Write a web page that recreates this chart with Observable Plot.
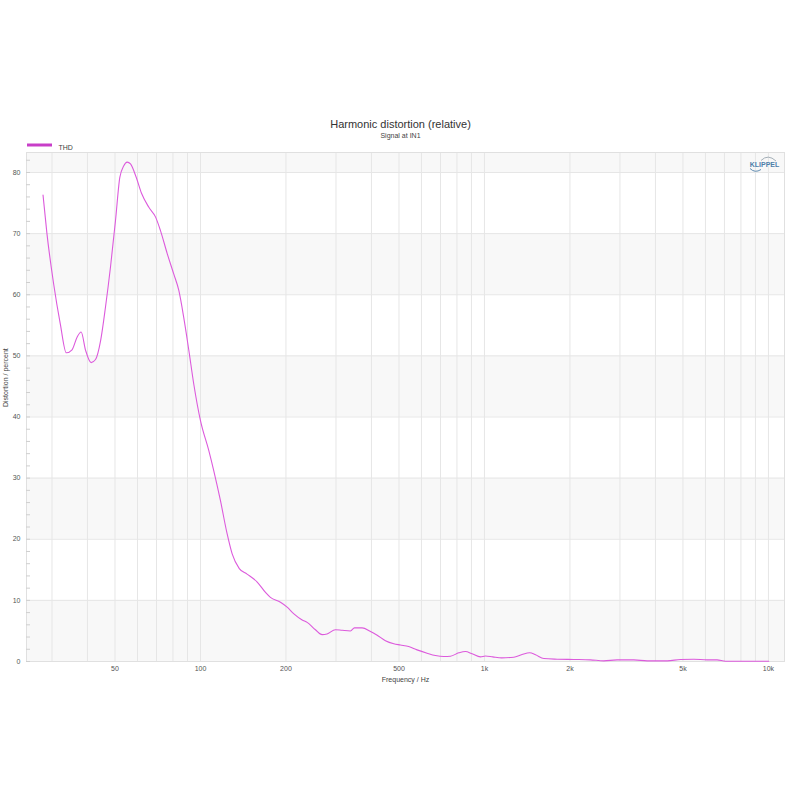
<!DOCTYPE html>
<html>
<head>
<meta charset="utf-8">
<script src="https://cdn.jsdelivr.net/npm/d3@7"></script>
<script src="https://cdn.jsdelivr.net/npm/@observablehq/plot@0.6"></script>
<style>
  html, body { margin: 0; padding: 0; background: #fff; }
  #chart { position: relative; width: 800px; height: 800px; }
</style>
</head>
<body>
<div id="chart"></div>
<script>
// ---- data ----
const freqs = [27.9, 28.8, 30.4, 32.1, 33.7, 35.3, 36.8, 38.0, 39.4, 41.2, 42.7, 44.5, 46.3, 48.2, 50.2, 52.0, 53.7, 55.2, 56.7, 59.3, 62.0, 65.8, 69.5, 72.3, 76.4, 80.5, 83.9, 87.3, 91.0, 94.7, 100, 107, 111.4, 117.6, 124.1, 129.3, 137, 145.9, 158.4, 169.4, 176.3, 191.3, 201.9, 213.3, 228.1, 237.5, 254, 268, 279, 298.5, 315.5, 337.4, 348.5, 370.8, 397, 419, 448, 479.5, 506, 541, 579, 628, 672, 719, 759, 812, 857, 905, 968, 1008, 1070, 1150, 1268, 1357, 1444, 1513, 1619, 1804, 2063, 2360, 2630, 2931, 3356, 3740, 4400, 4900, 5460, 6080, 6590, 7060, 7960, 10020];
const thd = [76.3, 70.0, 61.8, 55.2, 50.5, 51.0, 53.1, 53.9, 50.9, 48.9, 49.4, 52.5, 58.0, 64.5, 72.1, 79.2, 81.1, 81.7, 81.4, 79.3, 76.6, 74.3, 72.7, 70.5, 66.7, 63.4, 60.7, 56.3, 50.9, 45.4, 39.4, 34.5, 31.2, 26.3, 20.9, 17.6, 15.2, 14.3, 13.0, 11.3, 10.5, 9.7, 8.9, 7.8, 6.8, 6.4, 5.2, 4.4, 4.5, 5.2, 5.1, 5.0, 5.5, 5.5, 4.9, 4.3, 3.4, 2.9, 2.7, 2.45, 1.9, 1.36, 0.98, 0.82, 0.87, 1.42, 1.64, 1.26, 0.75, 0.9, 0.75, 0.6, 0.7, 1.15, 1.42, 1.1, 0.49, 0.38, 0.33, 0.27, 0.11, 0.27, 0.27, 0.11, 0.11, 0.33, 0.38, 0.27, 0.27, 0.05, 0.05, 0.05];
const xTicks = [50, 100, 200, 500, 1000, 2000, 5000, 10000];
const xTickLabels = ["50", "100", "200", "500", "1k", "2k", "5k", "10k"];
const xGrid = [30, 40, 50, 60, 70, 80, 90, 100, 200, 300, 400, 500, 600, 700, 800, 900, 1000, 2000, 3000, 4000, 5000, 6000, 7000, 8000, 9000, 10000];
const yTicks = [0, 10, 20, 30, 40, 50, 60, 70, 80];
const yMinor = d3.range(0, 84, 2);
const bandLo = [0, 20, 40, 60, 80];
const bandHi = [10, 30, 50, 70, 83.27];
const seriesName = "THD";
const titleText = "Harmonic distortion (relative)";
const subtitleText = "Signal at IN1";
const xLabel = "Frequency / Hz";
const yLabel = "Distortion / percent";

const rows = freqs.map((f, i) => ({f, v: thd[i]}));
const bands = bandLo.map((lo, i) => ({lo, hi: bandHi[i]}));
const xTickRows = xTicks.map((f, i) => ({f, label: xTickLabels[i]}));
const lineColor = "#dc5adc";
const gridColor = "#e6e6e6";
const textColor = "#555";

const plot = Plot.plot({
  width: 800,
  height: 800,
  marginTop: 152,
  marginBottom: 139,
  marginLeft: 26,
  marginRight: 16,
  style: {fontFamily: "'Liberation Sans', Arial, sans-serif", fontSize: "7px", background: "#fff", color: textColor},
  x: {type: "log", domain: [24.4, 11390], axis: null},
  y: {domain: [0, 83.27], axis: null},
  marks: [
    Plot.rect(bands, {y1: "lo", y2: "hi", fill: "#f8f8f8"}),
    Plot.ruleX(xGrid, {stroke: gridColor, strokeWidth: 1}),
    Plot.ruleY(yTicks, {stroke: gridColor, strokeWidth: 1}),
    Plot.frame({stroke: "#e0e0e0"}),
    Plot.axisY(yMinor, {anchor: "left", tickSize: 4, dx: 4, tickFormat: () => "", stroke: "#cfcfcf", label: null}),
    Plot.axisY(yTicks, {anchor: "left", tickSize: 0, tickPadding: 6, label: null, fill: textColor}),
    Plot.text(xTickRows, {x: "f", text: "label", frameAnchor: "bottom", dy: 9, fontSize: 7, fill: textColor}),
    Plot.line(rows, {x: "f", y: "v", stroke: lineColor, strokeWidth: 1.1, curve: "monotone-x"}),
    Plot.text([titleText], {frameAnchor: "top", dy: -32, dx: -5, text: d => d, fontSize: 11, fill: "#333"}),
    Plot.text([subtitleText], {frameAnchor: "top", dy: -19, dx: -5, text: d => d, fontSize: 7, fill: "#444"}),
    Plot.text([seriesName], {frameAnchor: "top-left", dx: 32, dy: -7, text: d => d, fontSize: 7, fill: "#444", textAnchor: "start"}),
    Plot.text([xLabel], {frameAnchor: "bottom", dy: 20, text: d => d, fontSize: 7, fill: "#444"}),
    Plot.text([yLabel], {frameAnchor: "left", dx: -21, rotate: -90, text: d => d, fontSize: 7, fill: "#444"})
  ]
});

document.getElementById("chart").appendChild(plot);

// legend swatch and logo decoration
const svg = d3.select(plot);
svg.append("line")
  .attr("x1", 27).attr("x2", 52).attr("y1", 145).attr("y2", 145)
  .attr("stroke", "#c83ec8").attr("stroke-width", 3);
const logo = svg.append("g");
logo.append("text")
  .attr("x", 764.5).attr("y", 166.5)
  .attr("text-anchor", "middle")
  .attr("font-size", 7).attr("font-weight", "bold")
  .attr("font-family", "'Liberation Sans', Arial, sans-serif")
  .attr("fill", "#4f7fa8")
  .text("KLIPPEL");
logo.append("path")
  .attr("d", "M761,160.5 Q768,153.5 776,161")
  .attr("fill", "none").attr("stroke", "#9aa6b0").attr("stroke-width", 0.9);
logo.append("path")
  .attr("d", "M750,168.5 Q755,173.5 761,169.5")
  .attr("fill", "none").attr("stroke", "#4f7fa8").attr("stroke-width", 0.9);
</script>
</body>
</html>
